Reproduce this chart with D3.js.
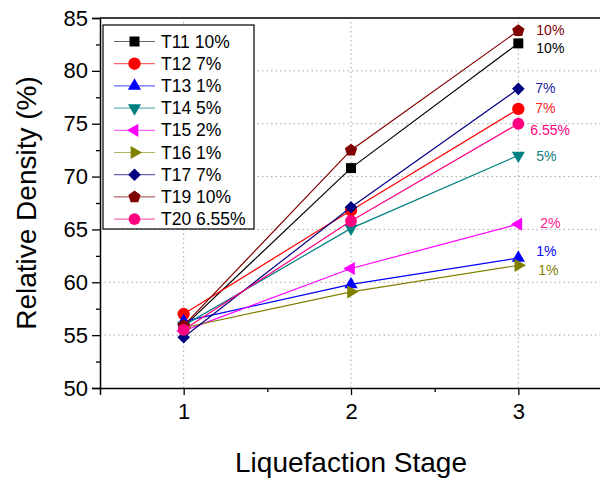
<!DOCTYPE html>
<html>
<head>
<meta charset="utf-8">
<script src="https://cdn.jsdelivr.net/npm/d3@7"></script>
<style>
  body { margin: 0; background: #fff; }
  svg { display: block; font-family: "Liberation Sans", Arial, sans-serif; }
</style>
</head>
<body>
<script>
(function(){

    // data
    var stages = [1, 2, 3];
    var seriesNames = ["T11 10%", "T12 7%", "T13 1%", "T14 5%", "T15 2%", "T16 1%", "T17 7%", "T19 10%", "T20 6.55%"];
    var t11 = [55.8, 70.8, 82.6];
    var t12 = [57.0, 66.8, 76.4];
    var t13 = [56.3, 59.8, 62.3];
    var t14 = [55.9, 65.1, 72.0];
    var t15 = [55.4, 61.3, 65.5];
    var t16 = [55.7, 59.1, 61.6];
    var t17 = [54.8, 67.1, 78.3];
    var t19 = [55.9, 72.5, 83.8];
    var t20 = [55.5, 65.8, 75.0];
    var seriesValues = [t11, t12, t13, t14, t15, t16, t17, t19, t20];
    var endLabels = ["10%", "7%", "1%", "5%", "2%", "1%", "7%", "10%", "6.55%"];
    var yTicks = [50, 55, 60, 65, 70, 75, 80, 85];
    var xTicks = [1, 2, 3];

    var FONT = "'Liberation Sans', Arial, sans-serif";
    var colors = ["#000000", "#ff0000", "#0000ff", "#008080", "#ff00ff", "#808000", "#000080", "#800000", "#ff0080"];
    var labelColors = ["#000000", "#ff2020", "#0000ff", "#108080", "#ff2090", "#808000", "#2020a0", "#800000", "#ff0080"];
    // label offsets from the last point: [dx, dy]
    var labelOffsets = [[18, 10], [17, 4], [18, -2], [18, 6], [22, 4], [20, 10], [17, 4], [18, 4], [12, 11]];

    var width = 600, height = 482;
    var margin = {left: 100, right: -2, top: 18, bottom: 94};

    var svg = d3.select("body").append("svg")
        .attr("width", width)
        .attr("height", height);

    var x = d3.scaleLinear().domain([0.5, 3.5]).range([margin.left, width - margin.right]);
    var y = d3.scaleLinear().domain([50, 85]).range([height - margin.bottom, margin.top]);

    // custom marker shapes
    function polygon(n, rot){
        return {
            draw: function(ctx, size){
                var r = Math.sqrt(size / (n * Math.sin(2 * Math.PI / n) / 2));
                for (var i = 0; i < n; i++) {
                    var a = rot + i * 2 * Math.PI / n;
                    var px = r * Math.sin(a), py = -r * Math.cos(a);
                    if (i === 0) ctx.moveTo(px, py); else ctx.lineTo(px, py);
                }
                ctx.closePath();
            }
        };
    }
    var shapes = [
        polygon(4, Math.PI / 4),
        d3.symbolCircle,
        polygon(3, 0),
        polygon(3, Math.PI),
        polygon(3, -Math.PI / 2),
        polygon(3, Math.PI / 2),
        polygon(4, 0),
        polygon(5, 0),
        d3.symbolCircle
    ];
    var sizes = [100, 120, 75, 75, 75, 75, 80, 100, 110];

    // grid
    svg.append("g").selectAll("line")
        .data(yTicks.filter(d => d > 50 && d < 85))
        .enter().append("line")
        .attr("x1", x(0.5)).attr("x2", x(3.5))
        .attr("y1", d => y(d)).attr("y2", d => y(d))
        .attr("stroke", "#a8a8a8")
        .attr("stroke-dasharray", "1.5,3");

    svg.append("g").selectAll("line")
        .data(xTicks)
        .enter().append("line")
        .attr("x1", d => x(d)).attr("x2", d => x(d))
        .attr("y1", y(50)).attr("y2", y(85))
        .attr("stroke", "#a8a8a8")
        .attr("stroke-dasharray", "1.5,3");

    // frame
    svg.append("line")
        .attr("x1", x(0.5)).attr("x2", x(3.5))
        .attr("y1", y(85)).attr("y2", y(85))
        .attr("stroke", "#000").attr("stroke-width", 1.5);

    // axes
    var yAxis = svg.append("g")
        .attr("transform", `translate(${x(0.5)},0)`)
        .call(d3.axisLeft(y).tickValues(yTicks).tickSize(8).tickPadding(4));
    svg.append("g")
        .attr("transform", `translate(${x(0.5)},0)`)
        .call(d3.axisLeft(y).tickValues(d3.range(52.5, 85, 5)).tickSize(4).tickFormat(""))
        .select(".domain").remove();

    var xAxis = svg.append("g")
        .attr("transform", `translate(0,${y(50)})`)
        .call(d3.axisBottom(x).tickValues(xTicks).tickSize(7).tickPadding(8).tickFormat(d3.format("d")));
    svg.append("g")
        .attr("transform", `translate(0,${y(50)})`)
        .call(d3.axisBottom(x).tickValues([1.5, 2.5]).tickSize(4).tickFormat(""))
        .select(".domain").remove();

    svg.selectAll(".domain").attr("stroke-width", 1.5).attr("stroke", "#000");
    svg.selectAll(".tick line").attr("stroke-width", 1.3).attr("stroke", "#000");
    yAxis.selectAll("text").style("font-size", "22px").style("font-family", FONT).attr("fill", "#000");
    xAxis.selectAll("text").style("font-size", "22px").style("font-family", FONT).attr("fill", "#000");

    // axis titles
    svg.append("text")
        .attr("transform", `translate(36,${(y(50) + y(85)) / 2}) rotate(-90)`)
        .attr("text-anchor", "middle")
        .style("font-family", FONT)
        .style("font-size", "28px")
        .text("Relative Density (%)");

    svg.append("text")
        .attr("x", (x(0.5) + x(3.5)) / 2)
        .attr("y", 472)
        .attr("text-anchor", "middle")
        .style("font-family", FONT)
        .style("font-size", "28px")
        .text("Liquefaction Stage");

    // series
    var line = d3.line().x((d, i) => x(stages[i])).y(d => y(d));

    var series = svg.append("g").selectAll("g")
        .data(seriesValues)
        .enter().append("g");

    series.append("path")
        .attr("d", d => line(d))
        .attr("fill", "none")
        .attr("stroke", (d, i) => colors[i])
        .attr("stroke-width", 1.2);

    series.each(function(vals, si){
        d3.select(this).selectAll("path.pt")
            .data(vals)
            .enter().append("path")
            .attr("class", "pt")
            .attr("transform", (d, i) => `translate(${x(stages[i])},${y(d)})`)
            .attr("d", d3.symbol().type(shapes[si]).size(sizes[si]))
            .attr("fill", colors[si]);
    });

    // end labels
    svg.append("g").selectAll("text")
        .data(seriesValues)
        .enter().append("text")
        .attr("x", (d, i) => x(stages[2]) + labelOffsets[i][0])
        .attr("y", (d, i) => y(d[2]) + labelOffsets[i][1])
        .attr("fill", (d, i) => labelColors[i])
        .style("font-family", FONT)
        .style("font-size", "14px")
        .text((d, i) => endLabels[i]);

    // legend
    var legend = svg.append("g").attr("transform", "translate(103,25)");
    legend.append("rect")
        .attr("width", 151).attr("height", 204)
        .attr("fill", "#fff")
        .attr("stroke", "#000").attr("stroke-width", 1.2);

    var rows = legend.selectAll("g.row")
        .data(seriesNames)
        .enter().append("g")
        .attr("class", "row")
        .attr("transform", (d, i) => `translate(0,${16.5 + i * 22.2})`);

    rows.append("line")
        .attr("x1", 11).attr("x2", 52)
        .attr("stroke", (d, i) => colors[i])
        .attr("stroke-opacity", 0.6)
        .attr("stroke-width", 1.2);

    rows.append("path")
        .attr("transform", "translate(31.5,0)")
        .attr("d", (d, i) => d3.symbol().type(shapes[i]).size(sizes[i])())
        .attr("fill", (d, i) => colors[i]);

    rows.append("text")
        .attr("x", 58)
        .attr("y", 6)
        .style("font-family", FONT)
        .style("font-size", "17.5px")
        .text(d => d);

})();
</script>
</body>
</html>
